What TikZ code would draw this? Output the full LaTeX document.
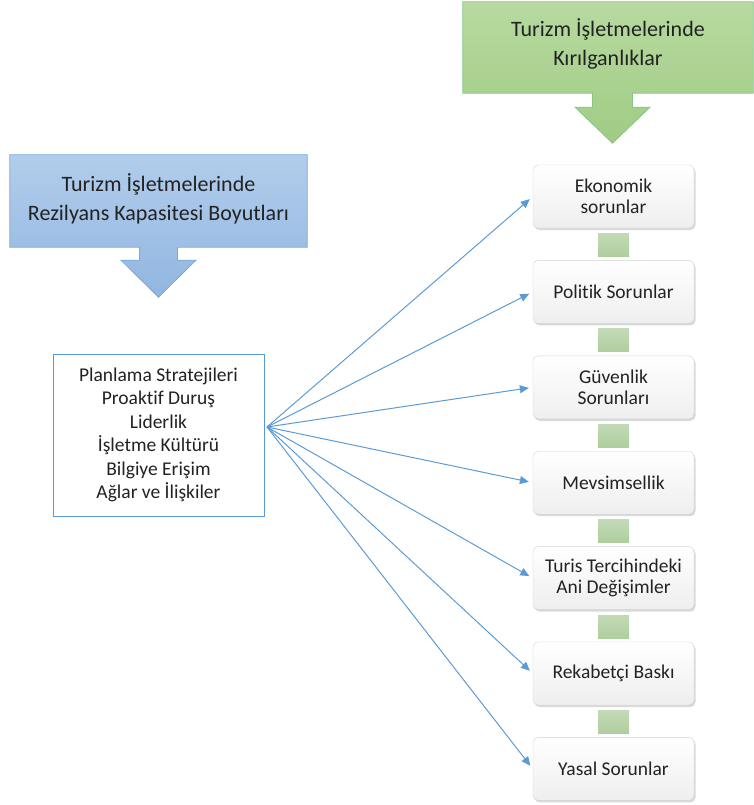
\documentclass[tikz,border=0pt]{standalone}
\usepackage{fontspec}
\setmainfont{Carlito}[Ligatures={NoCommon}]
\usetikzlibrary{positioning, arrows.meta, shadows, backgrounds}
\definecolor{lineblue}{HTML}{5B9BD5}
\definecolor{textgray}{HTML}{222222}
\definecolor{linkgreen}{HTML}{AFCE9E}
\tikzset{
x=1pt, y=-1pt, % pixel-like units, y grows downwards
every node/.style={text=textgray},
item/.style={rectangle, rounded corners=5pt, draw=gray!35, top color=white, bottom color=gray!13, minimum width=161pt, minimum height=63pt, align=center, font=\fontsize{19.5}{21}\selectfont, drop shadow={shadow xshift=1.5pt, shadow yshift=-2pt, opacity=.3}}, % boxes of the right column
link/.style={rectangle, minimum width=31pt, minimum height=23pt, inner sep=0pt, top color=linkgreen!75!white, bottom color=linkgreen}, % small green joints
titlebox/.style={rectangle, align=center, font=\fontsize{22}{29}\selectfont},
greencall/.style={draw=green!35!gray!70, line width=0.8pt, top color=HTMLgreenA, bottom color=HTMLgreenB},
bluecall/.style={draw=lineblue!85, line width=0.8pt, top color=HTMLblueA, bottom color=HTMLblueB},
fan/.style={draw=lineblue, line width=1pt, -{Triangle[length=9pt,width=8pt]}, shorten >=4pt}, % arrows from the list
}
\definecolor{HTMLgreenA}{HTML}{B7DAA0}
\definecolor{HTMLgreenB}{HTML}{A0CB84}
\definecolor{HTMLblueA}{HTML}{B2CDEC}
\definecolor{HTMLblueB}{HTML}{92B6E0}

\begin{document}
\begin{tikzpicture}
\useasboundingbox (0,0) rectangle (754,805);

% titles with their arrows
\node[titlebox, minimum width=290pt, minimum height=91pt, text depth=11pt] (kir) at (608,47.5) {Turizm İşletmelerinde\\Kırılganlıklar};
\node[titlebox, minimum width=297pt, minimum height=92pt, text depth=8pt] (rez) at (158.5,201) {Turizm İşletmelerinde\\Rezilyans Kapasitesi Boyutları};
\begin{scope}[on background layer]
\path[greencall] (kir.north west) -- (kir.north east) -- (kir.south east)
  -- ([xshift=24.5pt]kir.south) -- ++(0,14) -- ++(17.5,0) -- ++(-37.5,36) -- ++(-37.5,-36) -- ++(17.5,0) -- ++(0,-14)
  -- (kir.south west) -- cycle;
\path[bluecall] (rez.north west) -- (rez.north east) -- (rez.south east)
  -- ([xshift=19pt]rez.south) -- ++(0,13) -- ++(18.5,0) -- ++(-37.5,37) -- ++(-37.5,-37) -- ++(18.5,0) -- ++(0,-13)
  -- (rez.south west) -- cycle;
\end{scope}

% left list
\node[draw=lineblue, line width=1pt, fill=white, align=center, minimum width=211pt, minimum height=162pt,
      font=\fontsize{19.5}{23.5}\selectfont] (boyut) at (158.5,435)
  {Planlama Stratejileri\\Proaktif Duruş\\Liderlik\\İşletme Kültürü\\Bilgiye Erişim\\Ağlar ve İlişkiler};
\coordinate (fan) at (267,427);

% right column
\node[item] (eko) at (613.5,196.5) {Ekonomik\\sorunlar};
\node[item, below=32pt of eko] (pol) {Politik Sorunlar};
\node[item, below=32pt of pol] (guv) {Güvenlik\\Sorunları};
\node[item, below=32pt of guv] (mev) {Mevsimsellik};
\node[item, below=32pt of mev] (turis) {Turis Tercihindeki\\Ani Değişimler};
\node[item, below=32pt of turis] (rek) {Rekabetçi Baskı};
\node[item, below=32pt of rek] (yas) {Yasal Sorunlar};

\node[link, below=5pt of eko] {};
\node[link, below=5pt of pol] {};
\node[link, below=5pt of guv] {};
\node[link, below=5pt of mev] {};
\node[link, below=5pt of turis] {};
\node[link, below=5pt of rek] {};

\draw[fan] (fan) -- (eko.west);
\draw[fan] (fan) -- (pol.west);
\draw[fan] (fan) -- (guv.west);
\draw[fan] (fan) -- (mev.west);
\draw[fan] (fan) -- (turis.west);
\draw[fan] (fan) -- (rek.west);
\draw[fan] (fan) -- (yas.west);

\end{tikzpicture}
\end{document}
